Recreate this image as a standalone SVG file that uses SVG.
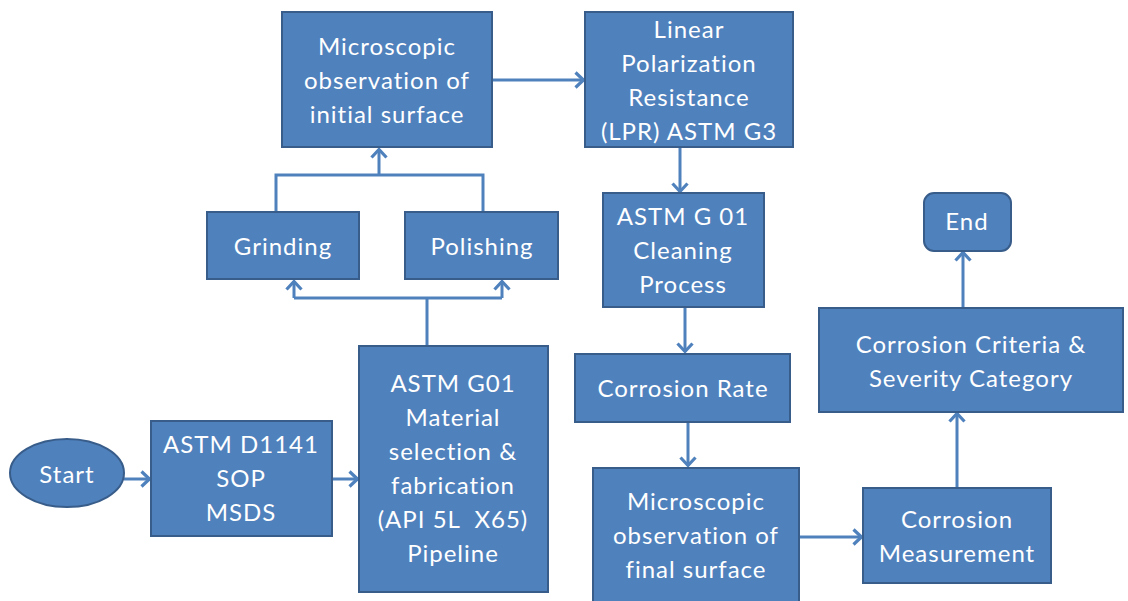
<svg xmlns="http://www.w3.org/2000/svg" width="1128" height="601" viewBox="0 0 1128 601">
<style>
.n{fill:#4F81BD;stroke:#385D8A;stroke-width:2}
.t{font-family:Lato,"Liberation Sans",sans-serif;font-size:24px;letter-spacing:1px;fill:#fff;text-anchor:middle}
.c{fill:none;stroke:#4F81BD;stroke-width:3}
.a{marker-end:url(#ah)}
</style>
<defs>
<marker id="ah" viewBox="0 0 12 18" refX="10.5" refY="9" markerWidth="12" markerHeight="18" markerUnits="userSpaceOnUse" orient="auto">
<path d="M2,1.5 L10,9 L2,16.5" fill="none" stroke="#4F81BD" stroke-width="3.2"/>
</marker>
</defs>
<rect width="1128" height="601" fill="#fff"/>
<g id="connectors">
<path class="c a" d="M124,479 H150"/>
<path class="c a" d="M332,479 H358"/>
<path class="c" d="M427,346 V298 M294,298 H502"/>
<path class="c a" d="M294,298 V281"/>
<path class="c a" d="M502,298 V281"/>
<path class="c" d="M276,212 V175 H483 V212"/>
<path class="c a" d="M379,175 V149"/>
<path class="c a" d="M492,80 H584"/>
<path class="c a" d="M680,147 V192"/>
<path class="c a" d="M685,307 V352"/>
<path class="c a" d="M688,422 V466"/>
<path class="c a" d="M799,537 H862"/>
<path class="c a" d="M957,488 V413"/>
<path class="c a" d="M963,307 V252"/>
</g>
<g id="start"><ellipse class="n" cx="67" cy="473" rx="57" ry="34"/><text class="t" x="67" y="483">Start</text></g>
<g id="d1141"><rect class="n" x="151" y="421" width="181" height="115"/>
<text class="t" x="241" y="453">ASTM D1141</text><text class="t" x="241" y="487">SOP</text><text class="t" x="241" y="521">MSDS</text></g>
<g id="g01"><rect class="n" x="359" y="346" width="189" height="246"/>
<text class="t" x="453" y="392">ASTM G01</text><text class="t" x="453" y="426">Material</text><text class="t" x="453" y="460">selection &amp;</text><text class="t" x="453" y="494">fabrication</text><text class="t" x="453" y="528" xml:space="preserve">(API 5L  X65)</text><text class="t" x="453" y="562">Pipeline</text></g>
<g id="grinding"><rect class="n" x="207" y="212" width="152" height="67"/><text class="t" x="283" y="255">Grinding</text></g>
<g id="polishing"><rect class="n" x="405" y="212" width="153" height="67"/><text class="t" x="482" y="255">Polishing</text></g>
<g id="micro-initial"><rect class="n" x="282" y="12" width="210" height="135"/>
<text class="t" x="387" y="55">Microscopic</text><text class="t" x="387" y="89">observation of</text><text class="t" x="387" y="123">initial surface</text></g>
<g id="lpr"><rect class="n" x="585" y="12" width="208" height="135"/>
<text class="t" x="689" y="38">Linear</text><text class="t" x="689" y="72">Polarization</text><text class="t" x="689" y="106">Resistance</text><text class="t" x="689" y="140">(LPR) ASTM G3</text></g>
<g id="cleaning"><rect class="n" x="603" y="193" width="161" height="114"/>
<text class="t" x="683" y="225">ASTM G 01</text><text class="t" x="683" y="259">Cleaning</text><text class="t" x="683" y="293">Process</text></g>
<g id="rate"><rect class="n" x="575" y="354" width="215" height="68"/><text class="t" x="683" y="397">Corrosion Rate</text></g>
<g id="micro-final"><rect class="n" x="593" y="468" width="206" height="140"/>
<text class="t" x="696" y="510">Microscopic</text><text class="t" x="696" y="544">observation of</text><text class="t" x="696" y="578">final surface</text></g>
<g id="measurement"><rect class="n" x="863" y="488" width="188" height="95"/>
<text class="t" x="957" y="528">Corrosion</text><text class="t" x="957" y="562">Measurement</text></g>
<g id="criteria"><rect class="n" x="819" y="308" width="304" height="104"/>
<text class="t" x="971" y="353">Corrosion Criteria &amp;</text><text class="t" x="971" y="387">Severity Category</text></g>
<g id="end"><rect class="n" x="924" y="193" width="87" height="58" rx="10"/><text class="t" x="967" y="230">End</text></g>
</svg>
